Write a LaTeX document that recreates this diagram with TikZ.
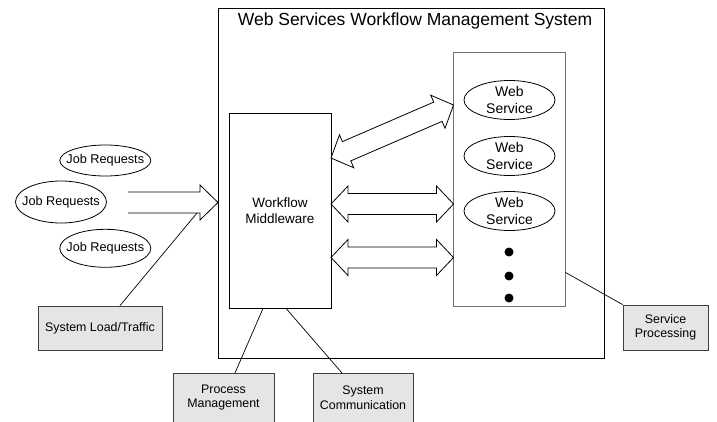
\documentclass[tikz,border=0pt]{standalone}
\usepackage{fontspec}
\setmainfont{Liberation Sans}
\usetikzlibrary{calc,shapes.geometric}
\tikzset{
  thinline/.style={line width=0.8pt},
  plainbox/.style={draw, thinline, inner sep=0pt},
  greybox/.style={draw=black!75, fill=black!10, thinline, inner sep=0pt},
  wsell/.style={draw, thinline, ellipse, inner xsep=0pt, inner ysep=-2.5pt, minimum width=91pt, minimum height=39pt, align=center, font=\fontsize{14}{17.5}\selectfont},
  jobell/.style={draw, thinline, ellipse, inner xsep=-7pt, inner ysep=0pt, minimum width=91pt, font=\fontsize{12.7}{14}\selectfont},
  boxtext/.style={align=center, inner sep=0pt, font=\fontsize{12.4}{14.5}\selectfont},
  arrowbox/.style={draw, thinline, fill=white, line join=miter},
  dot/.style={circle, fill, inner sep=0pt, minimum size=9pt},
  link/.style={draw, line width=0.7pt}
}
\newcommand\blockdbl[2]{%
  \path[arrowbox] (#1)
   -- ($(#1)!17pt!(#2)!18pt!90:(#2)$)
   -- ($(#1)!17pt!(#2)!10.5pt!90:(#2)$)
   -- ($(#2)!17pt!(#1)!10.5pt!-90:(#1)$)
   -- ($(#2)!17pt!(#1)!18pt!-90:(#1)$)
   -- (#2)
   -- ($(#2)!17pt!(#1)!18pt!90:(#1)$)
   -- ($(#2)!17pt!(#1)!10.5pt!90:(#1)$)
   -- ($(#1)!17pt!(#2)!10.5pt!-90:(#2)$)
   -- ($(#1)!17pt!(#2)!18pt!-90:(#2)$)
   -- cycle;}
\newcommand\blocksgl[2]{%
  \path[arrowbox] ($(#1)!10.5pt!90:(#2)$)
   -- ($(#2)!18pt!(#1)!10.5pt!-90:(#1)$)
   -- ($(#2)!18pt!(#1)!17.5pt!-90:(#1)$)
   -- (#2)
   -- ($(#2)!18pt!(#1)!17.5pt!90:(#1)$)
   -- ($(#2)!18pt!(#1)!10.5pt!90:(#1)$)
   -- ($(#1)!10.5pt!-90:(#2)$);}
\begin{document}
\begin{tikzpicture}[x=1pt,y=-1pt]
\useasboundingbox (0,0) rectangle (717,422);
\clip (0,0) rectangle (717,422);
% outer system box
\node[plainbox, minimum width=386pt, minimum height=350pt] (sys) at (411,183) {};
\node[anchor=base, inner sep=0pt, font=\fontsize{17.5}{21}\selectfont] (title) at (415,25.3) {Web Services Workflow Management System};
% middleware
\node[plainbox, minimum width=102pt, minimum height=195pt, align=center, font=\fontsize{13.5}{16.5}\selectfont] (mw) at (280,210.5) {Workflow\\Middleware};
% services box
\node[draw=black!55, thinline, inner sep=0pt, minimum width=112pt, minimum height=254pt] (sv) at (509,179) {};
\node[wsell] (ws1) at (509.5,100) {Web\\Service};
\node[wsell] (ws2) at (509.5,156) {Web\\Service};
\node[wsell] (ws3) at (509.5,211) {Web\\Service};
\node[dot] (d1) at (509,252) {};
\node[dot] (d2) at (509,276) {};
\node[dot] (d3) at (509,298) {};
% job requests
\node[jobell, minimum height=31pt] (jr1) at (105.3,160.5) {Job Requests};
\node[jobell, minimum height=42pt] (jr2) at (61,202) {Job Requests};
\node[jobell, minimum height=38pt] (jr3) at (105.3,248.3) {Job Requests};
% grey boxes
\node[greybox, minimum width=124pt, minimum height=44pt, boxtext] (sl) at (100,328) {System Load/Traffic};
\node[greybox, minimum width=101pt, minimum height=56pt, anchor=north] (pm) at (223.5,373) {};
\node[boxtext] (pmt) at (223.5,397.5) {Process\\Management};
\node[greybox, minimum width=100pt, minimum height=56pt, anchor=north] (sc) at (363,373) {};
\node[boxtext] (sct) at (363,397.5) {System\\Communication};
\node[greybox, minimum width=85pt, minimum height=45pt, boxtext] (sp) at (665.5,327.5) {Service\\Processing};
% arrow end points
\coordinate (a1l) at (331,204);
\coordinate (a1r) at (453.5,204);
\coordinate (a2l) at (331,257.5);
\coordinate (a2r) at (453.5,257.5);
\coordinate (a3l) at (331,158);
\coordinate (a3r) at (453.5,105);
\coordinate (jt) at (128,202.5);
\coordinate (jh) at (218,202.5);
\coordinate (jlink) at (197,213);
% block arrows
\blockdbl{a3l}{a3r}
\blockdbl{a1l}{a1r}
\blockdbl{a2l}{a2r}
\blocksgl{jt}{jh}
% links
\draw[link] ([xshift=20pt]sl.north) -- (jlink);
\draw[link] ([xshift=11.5pt]pm.north) -- ([xshift=-17pt]mw.south);
\draw[link] ([xshift=-21pt]sc.north) -- ([xshift=6pt]mw.south);
\draw[link] (sp.north west) -- ([yshift=34pt]sv.south east);
\end{tikzpicture}
\end{document}
